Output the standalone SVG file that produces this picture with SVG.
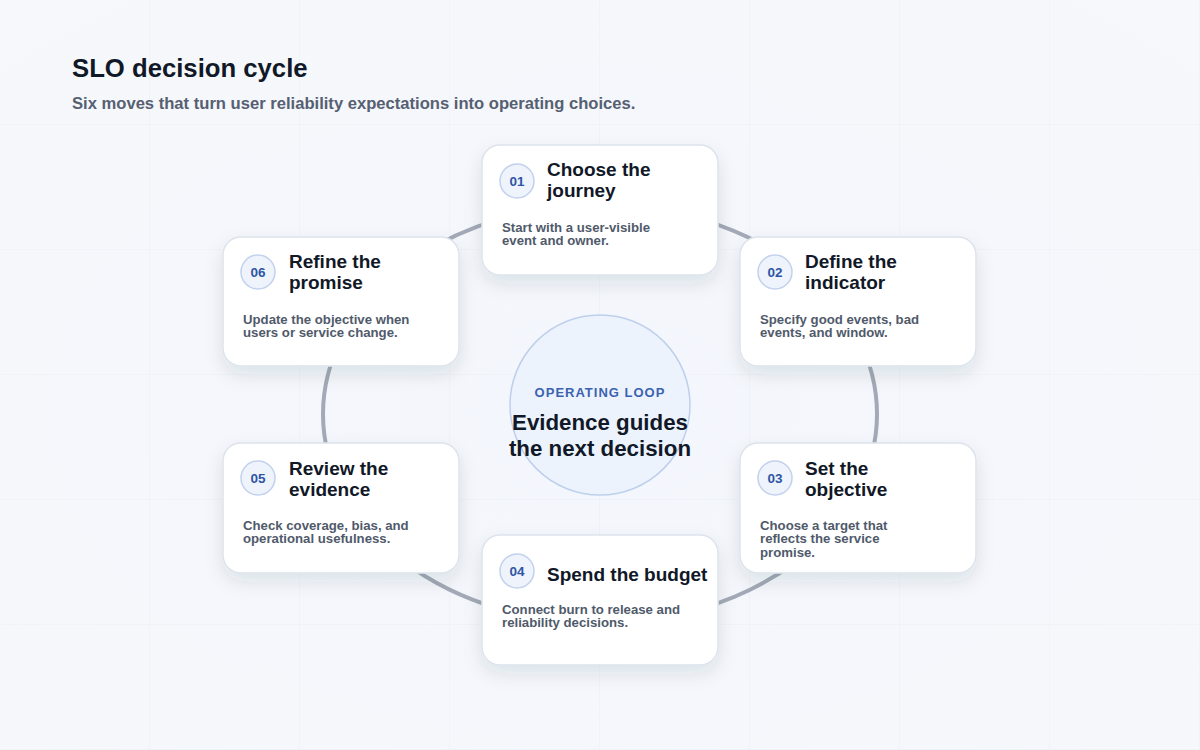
<svg xmlns="http://www.w3.org/2000/svg" width="1200" height="750" viewBox="0 0 1200 750">
  <defs>
    <radialGradient id="bg" cx="50%" cy="55%" r="75%">
      <stop offset="0" stop-color="#f3f6fc"/>
      <stop offset="1" stop-color="#f6f8fb"/>
    </radialGradient>
    <pattern id="grid" x="0" y="0" width="150" height="125" patternUnits="userSpaceOnUse">
      <path d="M150 0 V125 M0 125 H150" fill="none" stroke="#e6eaf1" stroke-width="1"/>
    </pattern>
    <filter id="shadow" x="-20%" y="-20%" width="140%" height="150%">
      <feDropShadow dx="0" dy="8" stdDeviation="9" flood-color="#1e293b" flood-opacity="0.10"/>
    </filter>
    <style>
      .card { fill: #ffffff; stroke: #dde3ec; stroke-width: 1.5; filter: url(#shadow); }
      .badge { fill: #eef3fc; stroke: #c3d2ec; stroke-width: 1.5; }
      .num { font-family: "Liberation Sans", Arial, sans-serif; font-weight: 700; font-size: 13.5px; fill: #2f55a4; text-anchor: middle; }
      .title { font-family: "Liberation Sans", Arial, sans-serif; font-weight: 700; font-size: 19px; fill: #111827; }
      .desc { font-family: "Liberation Sans", Arial, sans-serif; font-weight: 700; font-size: 13.2px; fill: #505a6b; }
    </style>
  </defs>

  <rect width="1200" height="750" fill="url(#bg)"/>
  <rect width="1200" height="750" fill="url(#grid)" opacity="0.7"/>

  <g id="header">
    <text x="72" y="77" font-family="Liberation Sans, Arial, sans-serif" font-weight="700" font-size="25.7" fill="#111827">SLO decision cycle</text>
    <text x="72" y="109" font-family="Liberation Sans, Arial, sans-serif" font-weight="700" font-size="16.6" fill="#566072">Six moves that turn user reliability expectations into operating choices.</text>
  </g>

  <g id="connectors">
    <ellipse cx="600" cy="414" rx="277" ry="209" fill="none" stroke="#a3a9b6" stroke-width="4"/>
  </g>

  <g id="center">
    <circle cx="600" cy="405" r="90" fill="#edf3fd" stroke="#bed0ec" stroke-width="1.5"/>
    <text x="600" y="397" text-anchor="middle" font-family="Liberation Sans, Arial, sans-serif" font-weight="700" font-size="13" letter-spacing="1" fill="#3b62b0">OPERATING LOOP</text>
    <text x="600" y="430" text-anchor="middle" font-family="Liberation Sans, Arial, sans-serif" font-weight="700" font-size="22.3" fill="#111827">Evidence guides</text>
    <text x="600" y="456" text-anchor="middle" font-family="Liberation Sans, Arial, sans-serif" font-weight="700" font-size="22.3" fill="#111827">the next decision</text>
  </g>

  <g id="node-01">
    <rect class="card" x="482" y="145" width="236" height="130" rx="18"/>
    <circle class="badge" cx="517" cy="181" r="17"/>
    <text class="num" x="517" y="186">01</text>
    <text class="title" x="547" y="176">Choose the</text>
    <text class="title" x="547" y="197">journey</text>
    <text class="desc" x="502" y="232">Start with a user-visible</text>
    <text class="desc" x="502" y="245">event and owner.</text>
  </g>

  <g id="node-02">
    <rect class="card" x="740" y="237" width="236" height="129" rx="18"/>
    <circle class="badge" cx="775" cy="272" r="17"/>
    <text class="num" x="775" y="277">02</text>
    <text class="title" x="805" y="268">Define the</text>
    <text class="title" x="805" y="289">indicator</text>
    <text class="desc" x="760" y="324">Specify good events, bad</text>
    <text class="desc" x="760" y="337">events, and window.</text>
  </g>

  <g id="node-03">
    <rect class="card" x="740" y="443" width="236" height="130" rx="18"/>
    <circle class="badge" cx="775" cy="478" r="17"/>
    <text class="num" x="775" y="483">03</text>
    <text class="title" x="805" y="475">Set the</text>
    <text class="title" x="805" y="496">objective</text>
    <text class="desc" x="760" y="530">Choose a target that</text>
    <text class="desc" x="760" y="543">reflects the service</text>
    <text class="desc" x="760" y="557">promise.</text>
  </g>

  <g id="node-04">
    <rect class="card" x="482" y="535" width="236" height="130" rx="18"/>
    <circle class="badge" cx="517" cy="571" r="17"/>
    <text class="num" x="517" y="576">04</text>
    <text class="title" x="547" y="581">Spend the budget</text>
    <text class="desc" x="502" y="614">Connect burn to release and</text>
    <text class="desc" x="502" y="627">reliability decisions.</text>
  </g>

  <g id="node-05">
    <rect class="card" x="223" y="443" width="236" height="130" rx="18"/>
    <circle class="badge" cx="258" cy="478" r="17"/>
    <text class="num" x="258" y="483">05</text>
    <text class="title" x="289" y="475">Review the</text>
    <text class="title" x="289" y="496">evidence</text>
    <text class="desc" x="243" y="530">Check coverage, bias, and</text>
    <text class="desc" x="243" y="543">operational usefulness.</text>
  </g>

  <g id="node-06">
    <rect class="card" x="223" y="237" width="236" height="129" rx="18"/>
    <circle class="badge" cx="258" cy="272" r="17"/>
    <text class="num" x="258" y="277">06</text>
    <text class="title" x="289" y="268">Refine the</text>
    <text class="title" x="289" y="289">promise</text>
    <text class="desc" x="243" y="324">Update the objective when</text>
    <text class="desc" x="243" y="337">users or service change.</text>
  </g>
</svg>
